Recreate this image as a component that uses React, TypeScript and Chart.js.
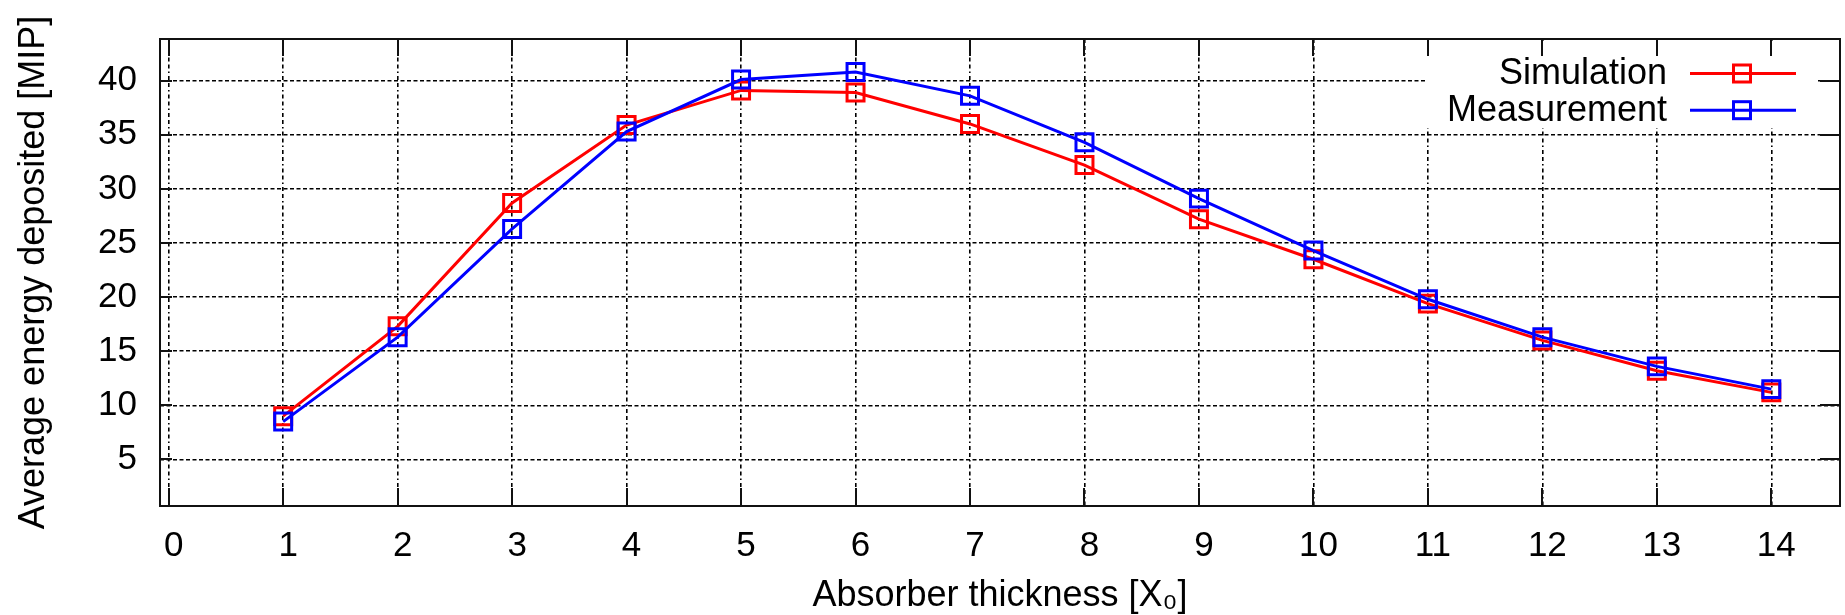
import React, { useEffect, useRef } from 'react';
import { Chart, registerables } from 'chart.js';

Chart.register(...registerables);

// ---- data ----
const thickness = [1, 2, 3, 4, 5, 6, 7, 8, 9, 10, 11, 12, 13, 14];
const simulation = [9.0, 17.3, 28.7, 35.9, 39.1, 38.9, 36.0, 32.2, 27.2, 23.5, 19.4, 16.0, 13.2, 11.2];
const measurement = [8.5, 16.3, 26.3, 35.3, 40.1, 40.8, 38.6, 34.3, 29.1, 24.3, 19.8, 16.3, 13.6, 11.5];
const xTickValues = [0, 1, 2, 3, 4, 5, 6, 7, 8, 9, 10, 11, 12, 13, 14];
const yTickValues = [5, 10, 15, 20, 25, 30, 35, 40];
const seriesNames = ['Simulation', 'Measurement'];
const xTitle = 'Absorber thickness [X\u2080]';
const yTitle = 'Average energy deposited [MIP]';

const X_MIN = -0.076;
const X_MAX = 14.6;
const Y_MIN = 0.7;
const Y_MAX = 43.85;

const RED = '#ff0000';
const BLUE = '#0000ff';
const FONT = '"Liberation Sans", Arial, Helvetica, sans-serif';

const framePlugin = {
  id: 'gnuFrame',
  afterDatasetsDraw(chart: any) {
    const { ctx, chartArea: a } = chart;
    const datasets = chart.data.datasets;
    ctx.save();
    // legend box (clears the grid)
    ctx.fillStyle = '#ffffff';
    ctx.fillRect(a.right - 415, a.top + 2, 393, 87);
    ctx.font = `36px ${FONT}`;
    ctx.textAlign = 'right';
    ctx.textBaseline = 'middle';
    datasets.forEach((ds: any, i: number) => {
      const y = a.top + 34.5 + i * 36.7;
      ctx.fillStyle = '#000';
      ctx.fillText(ds.label, a.right - 173, y + 1);
      ctx.strokeStyle = ds.borderColor;
      ctx.lineWidth = 3;
      ctx.beginPath();
      ctx.moveTo(a.right - 150, y);
      ctx.lineTo(a.right - 44, y);
      ctx.stroke();
      ctx.strokeRect(a.right - 98 - 8.5, y - 8.5, 17, 17);
    });
    ctx.restore();
  },
  afterDraw(chart: any) {
    const { ctx, chartArea: a, scales } = chart;
    ctx.save();
    ctx.strokeStyle = '#111';
    ctx.lineWidth = 2;
    ctx.setLineDash([]);
    ctx.beginPath();
    xTickValues.forEach((v) => {
      const px = Math.round(scales.x.getPixelForValue(v));
      ctx.moveTo(px, a.bottom);
      ctx.lineTo(px, a.bottom - 18);
      ctx.moveTo(px, a.top);
      ctx.lineTo(px, a.top + 17);
    });
    yTickValues.forEach((v) => {
      const py = Math.round(scales.y.getPixelForValue(v));
      ctx.moveTo(a.left, py);
      ctx.lineTo(a.left + 12, py);
      ctx.moveTo(a.right, py);
      ctx.lineTo(a.right - 20, py);
    });
    ctx.stroke();
    ctx.strokeRect(a.left, a.top, a.right - a.left, a.bottom - a.top);
    ctx.restore();
  },
};

export default function App() {
  const canvasRef = useRef<HTMLCanvasElement | null>(null);

  useEffect(() => {
    const canvas = canvasRef.current;
    if (!canvas) return;
    Chart.defaults.font.family = FONT;
    const chart = new Chart(canvas, {
      type: 'line',
      data: {
        datasets: [
          {
            label: seriesNames[0],
            data: thickness.map((x, i) => ({ x, y: simulation[i] })),
            borderColor: RED,
            backgroundColor: 'transparent',
            borderWidth: 3,
            pointStyle: 'rect',
            pointRadius: 12,
            pointBorderWidth: 3,
            pointBorderColor: RED,
            pointBackgroundColor: 'transparent',
            tension: 0,
            order: 1,
          },
          {
            label: seriesNames[1],
            data: thickness.map((x, i) => ({ x, y: measurement[i] })),
            borderColor: BLUE,
            backgroundColor: 'transparent',
            borderWidth: 3,
            pointStyle: 'rect',
            pointRadius: 12,
            pointBorderWidth: 3,
            pointBorderColor: BLUE,
            pointBackgroundColor: 'transparent',
            tension: 0,
            order: 0,
          },
        ],
      },
      options: {
        responsive: false,
        animation: false,
        devicePixelRatio: 1,
        layout: { autoPadding: false, padding: { top: 39, right: 5, left: 0, bottom: 0 } },
        plugins: {
          legend: { display: false },
          tooltip: { enabled: false },
        },
        scales: {
          x: {
            type: 'linear',
            min: X_MIN,
            max: X_MAX,
            afterBuildTicks: (s: any) => {
              s.ticks = xTickValues.map((v) => ({ value: v }));
            },
            afterFit: (s: any) => {
              s.height = 109;
              s.paddingLeft = 0;
              s.paddingRight = 0;
              s.paddingTop = 0;
              s.paddingBottom = 0;
            },
            ticks: {
              color: '#000',
              font: { size: 35 },
              padding: 19,
              labelOffset: 5,
              maxRotation: 0,
              autoSkip: false,
            },
            grid: { color: '#000', lineWidth: 1.6, drawTicks: false },
            border: { display: false, dash: [4, 3, 4, 3, 1.5, 3] },
            title: {
              display: true,
              text: xTitle,
              color: '#000',
              font: { size: 36 },
              padding: { top: 0, bottom: -3 },
            },
          },
          y: {
            type: 'linear',
            min: Y_MIN,
            max: Y_MAX,
            afterBuildTicks: (s: any) => {
              s.ticks = yTickValues.map((v) => ({ value: v }));
            },
            afterFit: (s: any) => {
              s.width = 160;
              s.paddingLeft = 0;
              s.paddingRight = 0;
              s.paddingTop = 0;
              s.paddingBottom = 0;
            },
            ticks: {
              color: '#000',
              font: { size: 35 },
              padding: 23,
            },
            grid: { color: '#000', lineWidth: 1.6, drawTicks: false },
            border: { display: false, dash: [4, 2.5] },
            title: {
              display: true,
              text: yTitle,
              color: '#000',
              font: { size: 36 },
              padding: { top: 12, bottom: 0 },
            },
          },
        },
      },
      plugins: [framePlugin],
    } as any);
    return () => chart.destroy();
  }, []);

  return (
    <div style={{ position: 'fixed', left: 0, top: 0, width: 1845, height: 615, background: '#fff' }}>
      <canvas ref={canvasRef} width={1845} height={615} style={{ display: 'block' }} />
    </div>
  );
}
